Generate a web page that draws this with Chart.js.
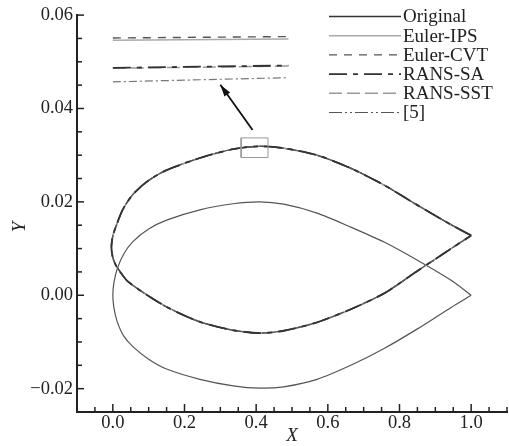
<!DOCTYPE html>
<html>
<head>
<meta charset="utf-8">
<script src="https://cdn.jsdelivr.net/npm/chart.js@4.4.1/dist/chart.umd.min.js"></script>
<style>
  html, body { margin: 0; padding: 0; background: #fff; }
  #wrap { width: 509px; height: 446px; }
</style>
</head>
<body>
<div id="wrap"><canvas id="airfoilChart"></canvas></div>
<script>
// 原始翼型：从后缘沿上表面到前缘，再沿下表面回到后缘
const originalX = [1.0, 0.944, 0.85, 0.757, 0.664, 0.57, 0.477, 0.41, 0.336, 0.243, 0.15, 0.1, 0.056, 0.03, 0.012, 0.003, 0.0,
  0.003, 0.012, 0.03, 0.056, 0.1, 0.15, 0.243, 0.336, 0.41, 0.477, 0.57, 0.664, 0.757, 0.85, 0.944, 1.0];
const originalY = [0.0, 0.0032, 0.0075, 0.0114, 0.0146, 0.0176, 0.0195, 0.0200, 0.0196, 0.0183, 0.0161, 0.0142, 0.0115, 0.0088, 0.0056, 0.0027, 0.0,
  -0.0027, -0.0056, -0.0087, -0.0110, -0.0137, -0.0158, -0.0180, -0.0194, -0.0199, -0.0196, -0.0180, -0.0150, -0.0114, -0.0072, -0.0026, 0.0];

// 变形后翼型（五种方法几乎重合）
const deformedX = [1.0, 0.944, 0.85, 0.757, 0.664, 0.57, 0.477, 0.41, 0.336, 0.243, 0.15, 0.1, 0.056, 0.028, 0.01, 0.0, -0.004,
  -0.001, 0.006, 0.017, 0.04, 0.075, 0.15, 0.243, 0.336, 0.41, 0.477, 0.57, 0.664, 0.757, 0.85, 0.944, 1.0];
const deformedY = [0.0128, 0.0151, 0.0193, 0.0236, 0.0272, 0.0300, 0.0315, 0.0319, 0.0313, 0.0294, 0.0268, 0.0246, 0.0216, 0.0184, 0.0150, 0.0127, 0.0104,
  0.0084, 0.0068, 0.0054, 0.0031, 0.0011, -0.0025, -0.0057, -0.0075, -0.0081, -0.0076, -0.0058, -0.0030, 0.0004, 0.0052, 0.0100, 0.0128];

// 局部放大示意线
const zoomX = [0.0, 0.49];
const zoomIpsY = [0.0546, 0.0549];
const zoomCvtY = [0.0551, 0.0554];
const zoomSaY = [0.0487, 0.0492];
const zoomSstY = [0.0486, 0.0491];
const zoomRefY = [0.0457, 0.0466];

// 放大框与箭头
const boxX = [0.358, 0.433, 0.433, 0.358, 0.358];
const boxY = [0.0295, 0.0295, 0.0337, 0.0337, 0.0295];
const arrowX = [0.39, 0.30];
const arrowY = [0.0354, 0.0451];

const seriesNames = ['Original', 'Euler-IPS', 'Euler-CVT', 'RANS-SA', 'RANS-SST', '[5]'];
const xTickValues = [0.0, 0.2, 0.4, 0.6, 0.8, 1.0];
const xTickLabels = ['0.0', '0.2', '0.4', '0.6', '0.8', '1.0'];
const yTickValues = [-0.02, 0.0, 0.02, 0.04, 0.06];
const yTickLabels = ['\u22120.02', '0.00', '0.02', '0.04', '0.06'];

const lineStyles = [
  { color: '#555', width: 1.2, dash: [] },
  { color: '#aaa', width: 1.5, dash: [] },
  { color: '#555', width: 1.4, dash: [8, 7] },
  { color: '#333', width: 1.8, dash: [18, 6, 5, 6] },
  { color: '#999', width: 1.5, dash: [13, 5] },
  { color: '#555', width: 1.2, dash: [13, 3, 2, 3, 2, 3] }
];

const serif = '"Liberation Serif", "Times New Roman", serif';

function toPoints(xs, ys) {
  return xs.map((x, i) => ({ x: x, y: ys[i] }));
}

function lineSet(points, style, extra) {
  return Object.assign({
    data: points,
    showLine: true,
    borderColor: style.color,
    borderWidth: style.width,
    borderDash: style.dash,
    pointRadius: 0,
    fill: false,
    tension: 0.25
  }, extra || {});
}

function tickLabel(values, labels) {
  return function(value) {
    for (let i = 0; i < values.length; i++) {
      if (Math.abs(value - values[i]) < 1e-9) return labels[i];
    }
    return '';
  };
}

const datasets = [];
// 变形后的五条曲线, order 小的画在上面
const deformedPts = toPoints(deformedX, deformedY);
const deformedOrder = [0, 9, 6, 3, 8, 5];
for (let i = 1; i <= 5; i++) {
  datasets.push(lineSet(deformedPts, lineStyles[i], { order: deformedOrder[i] }));
}
datasets.push(lineSet(toPoints(originalX, originalY), lineStyles[0], { order: 10 }));
// 放大区
datasets.push(lineSet(toPoints(zoomX, zoomIpsY), lineStyles[1], { tension: 0, order: 9 }));
datasets.push(lineSet(toPoints(zoomX, zoomCvtY), lineStyles[2], { tension: 0, order: 8 }));
datasets.push(lineSet(toPoints(zoomX, zoomSstY), lineStyles[4], { tension: 0, order: 8 }));
datasets.push(lineSet(toPoints(zoomX, zoomSaY), lineStyles[3], { tension: 0, order: 7 }));
datasets.push(lineSet(toPoints(zoomX, zoomRefY), { color: '#777', width: 1.2, dash: [8, 3, 2, 3] }, { tension: 0, order: 7 }));
datasets.push(lineSet(toPoints(boxX, boxY), { color: '#999', width: 1, dash: [] }, { tension: 0 }));
datasets.push(lineSet(toPoints(arrowX, arrowY), { color: '#111', width: 1.8, dash: [] }, { tension: 0 }));

// 向内刻度、坐标轴标题、箭头、图例
const decorPlugin = {
  id: 'decor',
  afterDraw(chart) {
    const ctx = chart.ctx;
    const area = chart.chartArea;
    const xs = chart.scales.x;
    const ys = chart.scales.y;
    ctx.save();
    ctx.strokeStyle = '#222';
    ctx.lineWidth = 1.5;
    xs.ticks.forEach(t => {
      const px = xs.getPixelForValue(t.value);
      if (px <= area.left + 1) return;
      const len = t.label ? 8 : 5;
      ctx.beginPath();
      ctx.moveTo(px, area.bottom);
      ctx.lineTo(px, area.bottom - len);
      ctx.stroke();
    });
    ys.ticks.forEach(t => {
      const py = ys.getPixelForValue(t.value);
      if (py >= area.bottom - 1) return;
      const len = t.label ? 7 : 5;
      ctx.beginPath();
      ctx.moveTo(area.left, py);
      ctx.lineTo(area.left + len, py);
      ctx.stroke();
    });

    // 箭头头部
    const x0 = xs.getPixelForValue(arrowX[0]), y0 = ys.getPixelForValue(arrowY[0]);
    const x1 = xs.getPixelForValue(arrowX[1]), y1 = ys.getPixelForValue(arrowY[1]);
    const ang = Math.atan2(y1 - y0, x1 - x0);
    ctx.fillStyle = '#111';
    ctx.beginPath();
    ctx.moveTo(x1, y1);
    ctx.lineTo(x1 - 12 * Math.cos(ang) + 3.5 * Math.sin(ang), y1 - 12 * Math.sin(ang) - 3.5 * Math.cos(ang));
    ctx.lineTo(x1 - 12 * Math.cos(ang) - 3.5 * Math.sin(ang), y1 - 12 * Math.sin(ang) + 3.5 * Math.cos(ang));
    ctx.closePath();
    ctx.fill();

    // 坐标轴标题
    ctx.fillStyle = '#222';
    ctx.font = 'italic 19px ' + serif;
    ctx.textAlign = 'center';
    ctx.textBaseline = 'middle';
    ctx.fillText('X', 292, 436);
    ctx.save();
    ctx.translate(20, 227);
    ctx.rotate(-Math.PI / 2);
    ctx.fillText('Y', 0, 0);
    ctx.restore();

    // 图例
    ctx.font = '19px ' + serif;
    ctx.textAlign = 'left';
    seriesNames.forEach((name, i) => {
      const y = 16.5 + i * 19.2;
      const st = lineStyles[i];
      ctx.strokeStyle = i === 0 ? '#333' : st.color;
      ctx.lineWidth = i === 0 ? 1.7 : st.width;
      ctx.setLineDash(st.dash);
      ctx.beginPath();
      ctx.moveTo(329, y);
      ctx.lineTo(401, y);
      ctx.stroke();
      ctx.setLineDash([]);
      ctx.fillStyle = '#222';
      ctx.fillText(name, 403, y + 1);
    });
    ctx.restore();
  }
};

new Chart(document.getElementById('airfoilChart'), {
  type: 'scatter',
  data: { datasets: datasets },
  options: {
    responsive: true,
    maintainAspectRatio: false,
    animation: false,
    layout: { padding: { left: 0, right: 2, top: 15, bottom: 0 } },
    plugins: {
      legend: { display: false },
      tooltip: { enabled: false }
    },
    scales: {
      x: {
        type: 'linear',
        min: -0.1,
        max: 1.1,
        afterFit: s => { s.height = 34; },
        grid: { display: false, drawTicks: false },
        border: { display: true, color: '#222', width: 2 },
        ticks: {
          stepSize: 0.05,
          autoSkip: false,
          maxRotation: 0,
          padding: 0,
          color: '#222',
          font: { family: serif, size: 18.5 },
          callback: tickLabel(xTickValues, xTickLabels)
        }
      },
      y: {
        type: 'linear',
        min: -0.025,
        max: 0.06,
        afterFit: s => { s.width = 77; },
        grid: { display: false, drawTicks: false },
        border: { display: true, color: '#222', width: 2 },
        ticks: {
          stepSize: 0.005,
          autoSkip: false,
          padding: 4,
          color: '#222',
          font: { family: serif, size: 18.5 },
          callback: tickLabel(yTickValues, yTickLabels)
        }
      }
    }
  },
  plugins: [decorPlugin]
});
</script>
</body>
</html>
